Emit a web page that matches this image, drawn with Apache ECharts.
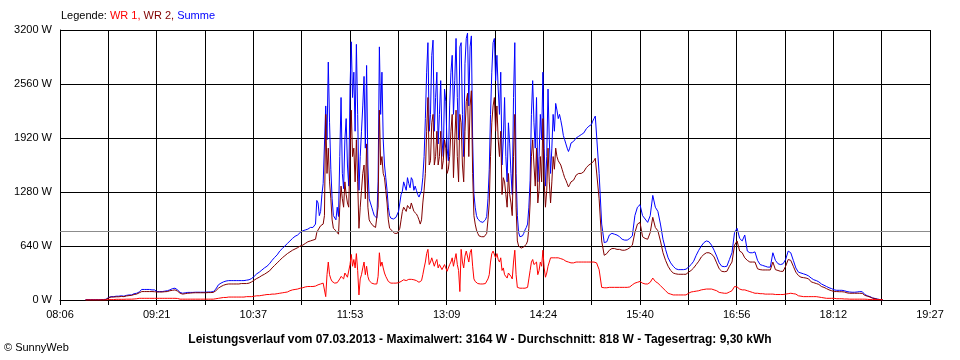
<!DOCTYPE html>
<html><head><meta charset="utf-8">
<script src="https://cdn.jsdelivr.net/npm/echarts@6/dist/echarts.min.js"></script>
<style>html,body{margin:0;padding:0;background:#fff}#c{width:960px;height:360px}</style>
</head><body><div id="c"></div>
<script>
// Time axis: minutes after 08:06, 18 grid intervals up to 19:27
const axisSpanMinutes = 681;
const xGridIntervals = 18;
const xTickLabels = ['08:06','09:21','10:37','11:53','13:09','14:24','15:40','16:56','18:12','19:27'];
const yMax = 3200;
const yInterval = 640;
const averageW = 818;

// Sampling (minutes after 08:06):
// part A: 20..198 every 2 min, part B: 200..420 every minute, part C: 422..644 every 2 min
const partStart = [20, 200, 422];
const partStep = [2, 1, 2];

const summeA = [
5,5,5,5,5,5,5,6,8,
30,40,40,45,45,50,45,55,60,60,75,80,95,
125,125,125,125,120,120,100,100,100,105,110,120,135,140,
120,90,80,85,90,90,90,92,92,92,92,92,95,95,100,
130,180,200,215,225,230,230,230,230,230,230,230,235,240,
255,280,310,330,355,380,400,430,470,505,535,580,610,640,
670,700,730,755,770,800,820,830,840,860,860
];
const summeB = [
900,1180,1150,1000,1050,1250,1380,1400,2300,1900,
2820,2100,1550,1200,1000,980,950,1100,990,1700,
2400,1500,1320,1900,2150,1600,1350,2500,3060,2400,
2700,2000,3030,2200,1300,1700,2000,2300,2650,1800,
2780,1600,1200,1150,1100,1050,1000,980,970,1400,
3000,2200,2700,1900,1600,1450,1300,1100,1000,970,
960,960,970,980,990,1050,1150,1250,1290,1400,
1350,1300,1450,1380,1330,1450,1420,1300,1350,1300,
1250,1220,1200,1300,1450,1700,2150,2700,3050,2000,
2200,2900,3080,2000,2400,2700,1850,2200,2600,1900,
1700,2500,2350,1800,1650,2300,2700,2900,2200,2600,
3100,2400,1900,3000,3050,2200,1700,2800,3100,3164,
2300,3000,3130,1900,1260,1100,1000,960,940,930,
920,920,930,950,990,1200,1550,2200,2700,3050,
3100,2600,2900,2500,2200,2700,1600,1900,2400,1700,
1400,2100,1850,1500,1250,2400,3050,1500,1000,800,
750,750,760,790,830,860,900,1100,1420,2200,
2600,2100,1800,2400,1400,1700,2200,1900,2700,1800,
1350,1700,2500,1900,1500,1800,2200,2000,2330,2250,
2150,2200,2130,2050,1950,1900,1850,1800,1760,1800,
1860,1870,1880,1900,1920,1930,1940,1950,1960,1970,
1980,2000,2030,2050,2060,2070,2080,2120,2150,2180,
2190
];
const summeC = [
1500,900,680,690,770,790,780,770,750,720,
710,710,730,760,1000,1100,1130,1000,960,920,
1000,1240,1100,1050,900,720,600,500,440,400,
370,360,360,360,365,390,420,460,530,590,
640,680,700,690,650,590,520,440,400,395,
400,480,560,800,850,730,700,770,580,560,
560,570,470,420,410,400,390,390,560,470,
430,420,430,480,580,560,470,380,330,320,
310,300,285,260,240,230,215,190,175,160,
145,135,120,115,115,115,110,100,95,92,
92,95,100,98,65,50,40,25,18,10,
5,2
];

const wr2A = [
0,0,0,0,0,0,0,2,5,
25,35,35,38,38,42,40,48,52,55,65,70,85,
100,100,100,100,100,98,95,95,95,98,100,110,115,120,
105,80,70,75,80,82,85,86,86,86,86,86,88,88,90,
110,140,160,175,185,190,190,190,190,190,195,195,195,200,
215,235,255,270,290,305,325,345,380,410,440,470,500,525,
550,570,590,605,620,640,650,670,690,700,710
];
const wr2B = [
720,800,830,850,880,900,900,1000,2200,1500,
1800,1400,1200,950,850,830,820,800,780,1100,
1350,1200,1100,1400,1250,1150,1100,1700,2250,1700,
1800,1400,1900,1400,850,1100,1300,1500,1600,1200,
1850,1100,950,920,900,880,870,860,850,1100,
2250,1600,1700,1500,1450,1300,1150,950,850,830,
820,800,790,790,790,810,850,950,1050,1100,
1100,1050,1120,1100,1080,1150,1150,1050,1060,1020,
990,950,900,950,1150,1300,1500,2000,2400,1600,
1650,2100,2200,1600,1700,2000,1600,1700,2000,1550,
1650,1900,1800,1500,1550,1700,2000,2200,1450,1900,
2250,1700,1400,2200,2100,1600,1400,2000,2350,2450,
1700,2300,2480,1500,1000,900,830,790,760,755,
750,750,750,770,790,950,1150,1700,2100,2300,
2400,2000,2300,1900,1700,2000,1250,1450,1400,1250,
1100,1500,1250,1150,1000,1700,2200,1100,700,640,
620,615,620,630,640,660,700,850,1150,1700,
1900,1600,1350,1800,1150,1300,1700,1400,2150,1400,
1100,1300,1800,1400,1150,1400,1700,1550,1800,1700,
1650,1650,1600,1550,1500,1450,1420,1380,1340,1370,
1400,1410,1420,1450,1480,1490,1500,1500,1500,1510,
1520,1540,1570,1590,1600,1610,1620,1640,1650,1680,
1700
];
const wr2C = [
1200,700,530,550,590,610,610,600,600,590,
590,600,620,650,800,900,920,750,730,720,
800,980,860,820,700,560,470,400,350,320,
310,305,305,305,305,330,350,380,420,460,
510,540,560,560,545,510,440,370,340,335,
340,400,450,650,700,580,560,500,470,450,
450,450,370,360,356,356,356,356,450,360,
350,340,340,400,480,470,400,330,290,270,
265,260,250,215,205,195,185,160,150,135,
120,110,100,100,98,98,95,85,80,80,
80,80,80,78,55,45,35,22,15,8,
5,2
];

const wr1A = [
0,0,0,0,0,0,0,0,0,
5,5,5,8,8,8,8,10,10,10,12,15,20,
20,20,20,20,20,20,20,20,20,20,20,20,20,20,
18,10,10,10,10,10,10,10,10,10,10,10,10,10,10,
15,20,25,30,30,35,35,35,35,35,35,35,40,40,
40,45,50,50,55,60,65,65,70,70,75,80,85,90,
95,110,120,125,130,140,145,155,160,160,160
];
const wr1B = [
165,175,180,185,190,195,200,220,40,300,
450,300,250,220,200,200,200,205,210,250,
280,260,250,320,300,270,280,420,540,400,
480,380,550,350,60,250,300,380,450,300,
400,280,230,210,200,195,190,190,190,280,
560,400,450,380,320,280,250,220,200,200,
200,200,200,200,200,205,210,220,230,240,
230,230,240,245,250,245,240,240,240,230,
220,210,200,230,300,380,450,550,600,420,
450,500,520,400,450,480,380,420,420,360,
350,420,380,340,360,420,450,500,400,480,
550,420,350,100,600,450,380,520,580,600,
450,560,600,400,250,220,200,195,190,190,
190,190,190,195,200,250,300,450,550,580,
590,500,550,480,450,500,350,380,300,300,
260,320,300,280,250,450,590,300,150,140,
140,140,140,140,140,145,150,250,350,450,
480,420,400,450,300,350,450,400,590,380,
270,320,400,450,500,500,500,500,500,500,
500,490,490,480,480,470,460,455,450,445,
440,440,440,445,450,450,450,450,450,450,
450,450,450,450,450,450,450,450,450,445,
440
];
const wr1C = [
360,150,145,145,150,150,150,150,150,150,
150,150,155,180,200,210,220,200,190,190,
210,260,220,200,170,140,110,80,70,60,
60,60,60,60,60,80,95,100,105,110,
120,125,130,130,130,120,110,90,85,80,
80,95,110,160,155,130,120,120,110,100,
90,80,80,75,75,70,70,70,70,65,
65,65,65,70,75,80,75,70,50,45,
40,40,40,40,40,40,35,30,25,20,
20,20,20,15,15,15,12,12,10,10,
10,10,10,10,10,8,5,5,5,5,
3,2
];

function pairs(parts){
  const out = [];
  parts.forEach((arr, p) => arr.forEach((v, i) => out.push([partStart[p] + i*partStep[p], v])));
  return out;
}
const xInterval = axisSpanMinutes / xGridIntervals;
const FONT = '"Liberation Sans", Arial, sans-serif';

const chart = echarts.init(document.getElementById('c'), null, {renderer:'canvas'});
chart.setOption({
  animation:false,
  backgroundColor:'#fff',
  textStyle:{fontFamily:FONT},
  grid:{left:60,right:30,top:30,bottom:60,containLabel:false},
  title:{
    text:'Leistungsverlauf vom 07.03.2013 - Maximalwert: 3164 W - Durchschnitt: 818 W - Tagesertrag: 9,30 kWh',
    left:'center', top:329,
    textStyle:{fontFamily:FONT,fontSize:12,fontWeight:'bold',color:'#000'}
  },
  graphic:[
    {type:'text', left:61, top:10, style:{
      text:'{k|Legende: }{a|WR 1, }{b|WR 2, }{c|Summe}',
      rich:{
        k:{fill:'#000',fontSize:11,fontFamily:FONT},
        a:{fill:'#ff0000',fontSize:11,fontFamily:FONT},
        b:{fill:'#800000',fontSize:11,fontFamily:FONT},
        c:{fill:'#0000ff',fontSize:11,fontFamily:FONT}
      }}},
    {type:'text', left:4, top:342, style:{text:'© SunnyWeb', fill:'#000', fontSize:11, fontFamily:FONT}}
  ],
  xAxis:{
    type:'value', min:0, max:axisSpanMinutes, interval:xInterval,
    axisLine:{show:true,lineStyle:{color:'#000',width:1}},
    axisTick:{show:true,length:5,lineStyle:{color:'#000'}},
    splitLine:{show:true,lineStyle:{color:'#000',width:1}},
    axisLabel:{color:'#000',fontSize:11,fontFamily:FONT,margin:9,showMinLabel:true,showMaxLabel:true,
      formatter:function(v){ const k=Math.round(v/xInterval); return k%2===0 ? (xTickLabels[k/2]||'') : ''; }}
  },
  yAxis:{
    type:'value', min:0, max:yMax, interval:yInterval,
    axisLine:{show:true,lineStyle:{color:'#000',width:1}},
    axisTick:{show:false},
    splitLine:{show:true,lineStyle:{color:'#000',width:1}},
    axisLabel:{color:'#000',fontSize:11,fontFamily:FONT,margin:8,formatter:function(v){return v + ' W';}}
  },
  series:[
    {name:'Summe',type:'line',data:pairs([summeA,summeB,summeC]),showSymbol:false,symbol:'none',
      lineStyle:{color:'#0000ff',width:1},itemStyle:{color:'#0000ff'},
      markLine:{silent:true,symbol:'none',label:{show:false},
        lineStyle:{color:'#8c8c8c',width:1,type:'solid'},data:[{yAxis:averageW}]}},
    {name:'WR 2',type:'line',data:pairs([wr2A,wr2B,wr2C]),showSymbol:false,symbol:'none',
      lineStyle:{color:'#800000',width:1},itemStyle:{color:'#800000'}},
    {name:'WR 1',type:'line',data:pairs([wr1A,wr1B,wr1C]),showSymbol:false,symbol:'none',
      lineStyle:{color:'#ff0000',width:1},itemStyle:{color:'#ff0000'}}
  ]
});
</script></body></html>
